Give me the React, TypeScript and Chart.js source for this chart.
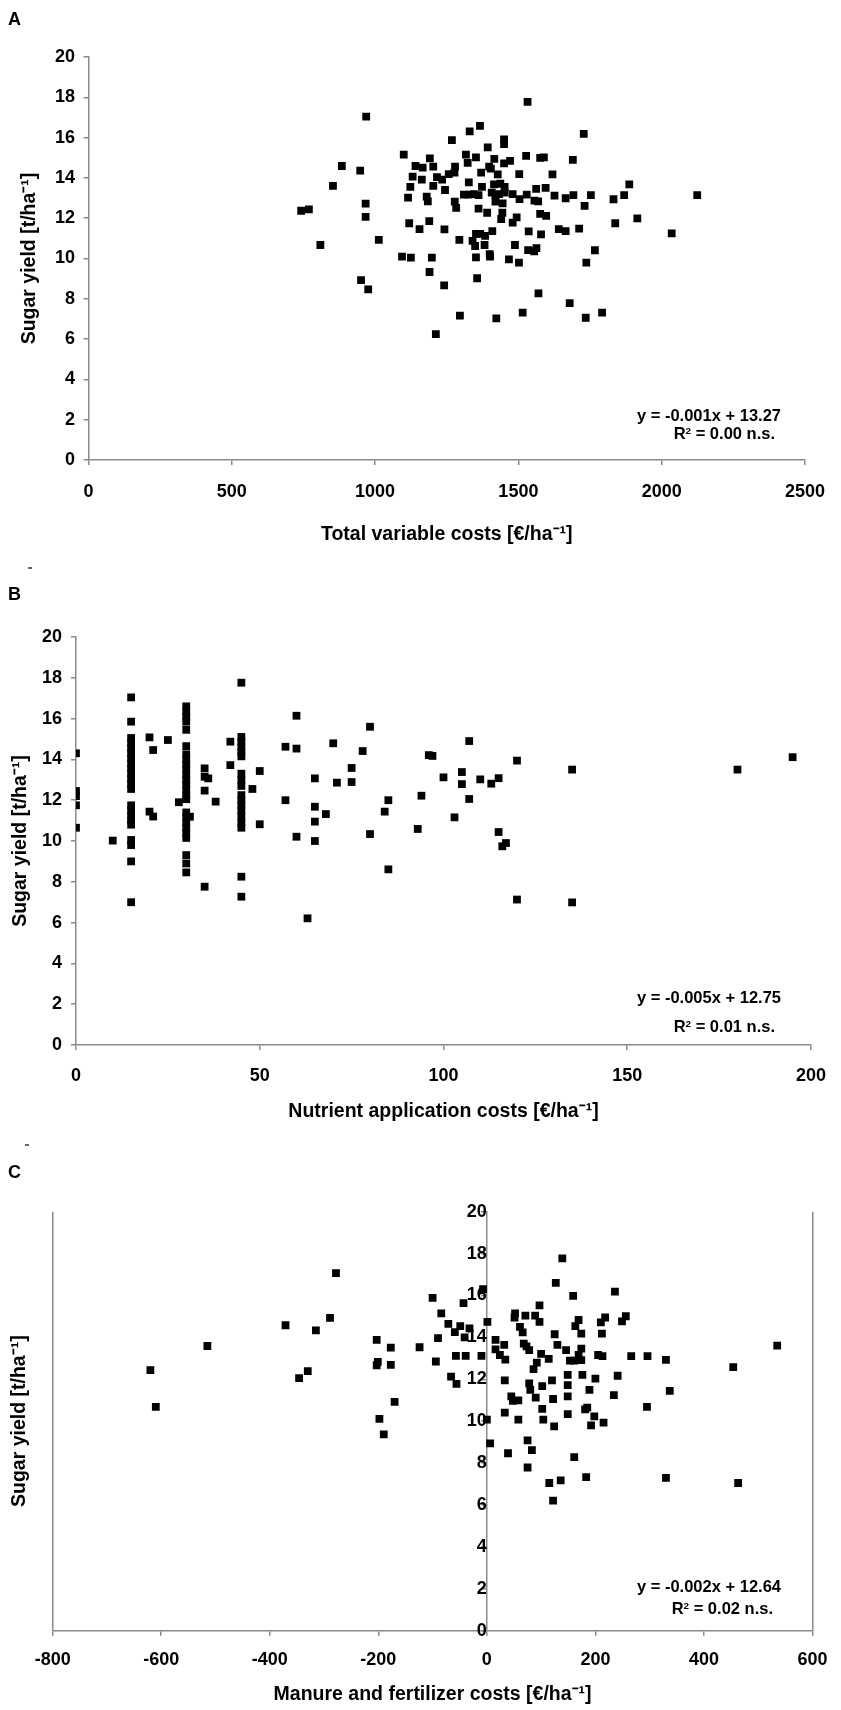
import React, { useEffect, useRef } from "react";
import { Chart, registerables } from "chart.js";

Chart.register(...registerables);

// ---------- Panel A: total variable costs [€/ha] vs sugar yield [t/ha]
const aCost = [
  969, 1532, 1366, 1330, 1268, 1450, 1450, 1728, 1393, 1100, 1317, 1352, 1416, 1527, 1576, 1589, 1690, 1191,
  1141, 1166, 1203, 1323, 1398, 1450, 1471, 884, 948, 1279, 1277, 1257, 1131, 1163, 1216, 1234, 1370, 1404,
  1428, 1503, 1619, 853, 1123, 1203, 1244, 1327, 1373, 1415, 1437, 1452, 1562, 1595, 1115, 1180, 1184, 1278,
  1283, 1310, 1327, 1345, 1361, 1407, 1420, 1433, 1452, 1480, 1420, 1445, 1504, 1529, 1556, 1569, 1626, 1665,
  1692, 1753, 1731, 742, 769, 967, 967, 1361, 1391, 1444, 1440, 1494, 1480, 1576, 1597, 1119, 1155, 1189, 1242,
  1409, 1536, 1579, 1641, 1665, 1712, 1767, 1737, 809, 1013, 1294, 1340, 1352, 1367, 1384, 1349, 1382, 1400,
  1401, 1352, 1488, 1467, 1502, 1534, 1555, 1563, 1094, 1125, 1198, 951, 976, 1190, 1241, 1356, 1570, 1679,
  1735, 1792, 1296, 1423, 1515, 1212, 1832, 1869, 1887, 1838, 1915, 2035, 2124,
];
const aYield = [
  17.04, 17.77, 16.58, 16.31, 15.88, 15.91, 15.68, 16.18, 15.52, 15.15, 15.15, 15.02, 14.94, 15.09, 14.99, 15.02,
  14.9, 14.97, 14.59, 14.51, 14.56, 14.75, 14.56, 14.72, 14.84, 14.59, 14.36, 14.56, 14.26, 14.19, 14.06, 13.91,
  14.04, 13.91, 14.26, 14.46, 14.18, 14.19, 14.18, 13.6, 13.56, 13.6, 13.4, 13.78, 13.56, 13.68, 13.71, 13.56,
  13.45, 13.5, 13.02, 13.07, 12.84, 12.82, 12.51, 13.17, 13.17, 13.19, 13.15, 13.27, 13.14, 13.2, 13.27, 13.2,
  12.82, 12.74, 12.95, 13.17, 12.87, 12.84, 13.12, 12.99, 13.15, 13.14, 12.61, 12.37, 12.44, 12.72, 12.07, 12.47,
  12.27, 12.27, 11.96, 12.04, 11.78, 12.21, 12.12, 11.75, 11.46, 11.86, 11.45, 11.36, 11.35, 11.2, 11.46, 11.36,
  11.48, 10.41, 9.79, 10.67, 10.92, 10.92, 10.88, 11.22, 11.22, 11.12, 10.62, 10.67, 10.22, 10.09, 10.06, 10.67,
  9.96, 9.79, 10.42, 10.36, 10.52, 10.09, 10.04, 10.04, 8.93, 8.47, 9.33, 8.67, 9.02, 8.27, 7.79, 7.06, 7.31,
  7.16, 7.03, 7.31, 6.25, 12.94, 13.14, 13.68, 11.75, 11.99, 11.25, 13.15,
];

// ---------- Panel B: nutrient application costs [€/ha] vs sugar yield
const bCost = [
  0, 0, 0, 0, 0, 10,
  15, 15, 15, 15, 15, 15, 15, 15, 15, 15, 15, 15, 15, 15, 15, 15, 15, 15, 15, 15, 15, 15,
  20, 20, 21, 21, 25, 28,
  30, 30, 30, 30, 30, 30, 30, 30, 30, 30, 30, 30, 30, 30, 30, 30, 30, 30, 30, 30, 30, 30, 30, 30, 30,
  31, 35, 35, 35, 35, 36, 38, 42, 42,
  45, 45, 45, 45, 45, 45, 45, 45, 45, 45, 45, 45, 45, 45, 45, 45, 45, 45,
  48, 50, 50, 57, 57, 60, 60, 60, 63, 65, 65, 65, 65, 68, 70, 71, 75, 75, 78, 80, 80, 84, 85, 85,
  93, 94, 96, 97, 100, 103, 105, 105, 107, 107, 110, 113, 115, 115, 116, 117, 120, 120, 135, 135, 180, 195,
];
const bYield = [
  14.3, 12.45, 12.2, 11.75, 10.65, 10.02,
  17.04, 15.85, 15.05, 14.8, 14.55, 14.3, 14.05, 13.8, 13.55, 13.3, 13.05, 12.8, 12.55, 11.75, 11.5, 11.25, 11.0,
  10.8, 10.05, 9.8, 9.0, 7.0,
  15.08, 11.44, 14.46, 11.2, 14.95, 11.9,
  16.6, 16.35, 16.1, 15.85, 15.45, 14.65, 14.25, 14.0, 13.75, 13.5, 13.25, 13.0, 12.75, 12.5, 12.25, 12.05, 11.4,
  11.15, 10.9, 10.65, 10.4, 10.15, 9.31, 8.9, 8.46,
  11.19, 13.56, 13.15, 12.47, 7.76, 13.07, 11.93, 14.87, 13.72,
  17.76, 15.1, 14.85, 14.6, 14.35, 14.15, 13.3, 13.0, 12.7, 12.25, 12.0, 11.75, 11.5, 11.2, 10.9, 10.65, 8.25, 7.27,
  12.55, 13.43, 10.82, 14.62, 12.0, 16.14, 14.53, 10.21, 6.21, 13.07, 11.68, 10.95, 10.0, 11.32, 14.79, 12.86,
  13.58, 12.89, 14.41, 15.6, 10.34, 11.44, 12.0, 8.61,
  10.59, 12.22, 14.21, 14.17, 13.12, 11.16, 13.38, 12.79, 14.9, 12.06, 13.02, 12.81, 13.08, 10.44, 9.74, 9.9,
  13.94, 7.13, 13.5, 6.99, 13.5, 14.11,
];

// ---------- Panel C: manure and fertilizer costs [€/ha] vs sugar yield
const cCost = [
  -620, -610, -515, -371, -346, -330, -315, -289, -278, -203, -203, -201, -198, -190, -177, -177, -170, -124,
  -100, -94, -90, -84, -71, -66, -59, -57, -56, -49, -43, -41, -39, -32, -10, -7, 0, 1, 6, 16, 16, 24, 32, 34,
  33, 33, 39, 45, 48, 52, 51, 58, 58, 61, 66, 68, 71, 73, 75, 75, 78, 78, 80, 83, 86, 89, 90, 92, 97, 97, 100,
  102, 102, 104, 114, 115, 120, 122, 122, 124, 127, 125, 130, 136, 139, 146, 149, 149, 149, 149, 153, 159, 161,
  161, 163, 169, 169, 174, 174, 174, 176, 181, 183, 185, 189, 192, 198, 200, 205, 210, 212, 213, 215, 218, 234,
  236, 241, 249, 256, 266, 295, 296, 330, 330, 337, 454, 463, 535,
];
const cYield = [
  12.44, 10.68, 13.59, 14.58, 12.06, 12.39, 14.34, 14.93, 17.07, 13.88, 12.67, 12.83, 10.11, 9.37, 13.51, 12.69,
  10.92, 13.53, 15.89, 12.85, 13.97, 15.15, 14.65, 12.13, 14.25, 13.12, 11.78, 14.54, 15.64, 14.0, 13.12, 14.43,
  13.12, 16.3, 10.07, 14.74, 8.94, 13.88, 13.43, 13.16, 13.64, 12.94, 11.95, 10.41, 8.47, 11.18, 10.97, 15.15,
  14.95, 10.99, 10.07, 14.5, 14.24, 13.7, 15.04, 13.57, 9.08, 7.79, 13.39, 11.81, 11.49, 8.62, 12.49, 15.04,
  11.13, 12.8, 14.74, 15.53, 13.21, 11.67, 10.59, 10.07, 12.98, 7.05, 11.95, 11.06, 6.21, 9.75, 16.6, 14.15,
  13.64, 7.18, 17.77, 13.39, 12.21, 11.72, 11.18, 10.34, 12.89, 15.98, 12.89, 8.28, 14.54, 14.83, 13.16, 14.18,
  13.46, 12.92, 12.21, 10.56, 7.33, 10.65, 11.49, 9.8, 10.23, 12.03, 13.16, 14.72, 14.18, 13.11, 9.93, 14.95,
  11.24, 16.19, 12.17, 14.77, 15.01, 13.11, 10.68, 13.11, 12.93, 7.29, 11.45, 12.58, 7.05, 13.61,
];

const yTitleText = "Sugar yield [t/ha\u207B\u00B9]";
const FONT = '"Liberation Sans", Arial, Helvetica, sans-serif';
const AXIS_GRAY = "#8a8a8a";

type Spec = {
  top: number;
  height: number;
  xs: number[];
  ys: number[];
  xMin: number;
  xMax: number;
  xStep: number;
  xTitle: string;
  padRight: number;
  padTop: number;
  yWidth: number;
  xHeight: number;
  xTickPad: number;
  yTickPad: number;
  xTitlePadBottom: number;
  yTitlePadTop: number;
  centerY?: boolean;
};

const specA: Spec = {
  top: 0, height: 560, xs: aCost, ys: aYield, xMin: 0, xMax: 2500, xStep: 500,
  xTitle: "Total variable costs [\u20AC/ha\u207B\u00B9]",
  padRight: 24.5, padTop: 57, yWidth: 88.5, xHeight: 100, xTickPad: 16, yTickPad: 8.5,
  xTitlePadBottom: 13.3, yTitlePadTop: 17.8,
};
const specB: Spec = {
  top: 560, height: 580, xs: bCost, ys: bYield, xMin: 0, xMax: 200, xStep: 50,
  xTitle: "Nutrient application costs [\u20AC/ha\u207B\u00B9]",
  padRight: 19, padTop: 77, yWidth: 76, xHeight: 95, xTickPad: 15, yTickPad: 9,
  xTitlePadBottom: 16.3, yTitlePadTop: 9.3,
};
const specC: Spec = {
  top: 1140, height: 570, xs: cCost, ys: cYield, xMin: -800, xMax: 600, xStep: 200,
  xTitle: "Manure and fertilizer costs [\u20AC/ha\u207B\u00B9]",
  padRight: 21, padTop: 71.7, yWidth: 52.7, xHeight: 79.3, xTickPad: 13.5, yTickPad: 8,
  xTitlePadBottom: 3.3, yTitlePadTop: 8.3, centerY: true,
};

const plainTick = (v: any) => String(v);

function Panel({ spec }: { spec: Spec }) {
  const ref = useRef<HTMLCanvasElement>(null);
  useEffect(() => {
    if (!ref.current) return;
    const tickFont = { family: FONT, size: 18, weight: "bold" as const };
    const titleFont = { family: FONT, size: 19.5, weight: "bold" as const };
    const points = spec.xs.map((x, i) => ({ x, y: spec.ys[i] }));
    const scales: any = {
      x: {
        type: "linear",
        position: "bottom",
        min: spec.xMin,
        max: spec.xMax,
        ticks: {
          stepSize: spec.xStep,
          color: "#000",
          font: tickFont,
          padding: spec.xTickPad,
          maxRotation: 0,
          autoSkip: false,
          callback: plainTick,
        },
        grid: spec.centerY
          ? {
              drawOnChartArea: true,
              color: (c: any) =>
                c.tick && (c.tick.value === spec.xMin || c.tick.value === spec.xMax) ? AXIS_GRAY : "rgba(0,0,0,0)",
              lineWidth: 1.5,
              tickColor: AXIS_GRAY,
              tickLength: 5,
              tickWidth: 1.5,
            }
          : { drawOnChartArea: false, color: AXIS_GRAY, tickColor: AXIS_GRAY, tickLength: 5, lineWidth: 1.5 },
        border: { display: true, color: AXIS_GRAY, width: 1.5 },
        title: {
          display: true,
          text: spec.xTitle,
          color: "#000",
          font: titleFont,
          padding: { top: 0, bottom: spec.xTitlePadBottom },
        },
        afterFit: (s: any) => {
          s.height = spec.xHeight;
        },
      },
    };
    const yTicks = { stepSize: 2, color: "#000", font: tickFont, padding: spec.yTickPad, callback: plainTick };
    const yTitle = {
      display: true,
      text: yTitleText,
      color: "#000",
      font: titleFont,
      padding: { top: spec.yTitlePadTop, bottom: 0 },
    };
    if (!spec.centerY) {
      scales.y = {
        type: "linear",
        position: "left",
        min: 0,
        max: 20,
        ticks: yTicks,
        grid: { drawOnChartArea: false, color: AXIS_GRAY, tickColor: AXIS_GRAY, tickLength: 5, lineWidth: 1.5 },
        border: { display: true, color: AXIS_GRAY, width: 1.5 },
        title: yTitle,
        afterFit: (s: any) => {
          s.width = spec.yWidth;
        },
      };
    } else {
      scales.yTitle = {
        type: "linear",
        axis: "y",
        position: "left",
        min: 0,
        max: 20,
        ticks: { display: false },
        grid: { display: false },
        border: { display: false },
        title: yTitle,
        afterFit: (s: any) => {
          s.width = spec.yWidth;
        },
      };
      scales.y = {
        type: "linear",
        axis: "y",
        position: { x: 0 },
        min: 0,
        max: 20,
        ticks: yTicks,
        grid: { drawOnChartArea: false, color: AXIS_GRAY, tickColor: AXIS_GRAY, tickLength: 5, lineWidth: 1.5 },
        border: { display: true, color: AXIS_GRAY, width: 1.5 },
      };
    }
    const chart = new Chart(ref.current, {
      type: "scatter",
      data: {
        datasets: [
          {
            label: "Sugar yield",
            data: points,
            xAxisID: "x",
            yAxisID: "y",
            pointStyle: "rect",
            pointRadius: 5.5,
            pointBorderWidth: 0,
            borderWidth: 0,
            backgroundColor: "#000",
            borderColor: "#000",
            showLine: false,
          },
        ],
      },
      options: {
        responsive: false,
        animation: false,
        events: [],
        layout: { padding: { left: 0, right: spec.padRight, top: spec.padTop, bottom: 0 } },
        plugins: { legend: { display: false }, tooltip: { enabled: false }, title: { display: false } },
        scales,
      },
    });
    return () => chart.destroy();
  }, [spec]);
  return (
    <canvas
      ref={ref}
      width={841}
      height={spec.height}
      style={{ position: "absolute", left: 0, top: spec.top, width: 841, height: spec.height, display: "block" }}
    />
  );
}

const letterStyle = (top: number): React.CSSProperties => ({
  position: "absolute",
  left: 8,
  top,
  fontFamily: FONT,
  fontWeight: "bold",
  fontSize: 18,
  lineHeight: "18px",
  color: "#000",
});

const dashStyle = (left: number, top: number): React.CSSProperties => ({
  position: "absolute",
  left,
  top,
  width: 4,
  height: 1.5,
  background: "#666",
});

const eqStyle = (top: number, right: number): React.CSSProperties => ({
  position: "absolute",
  right: 841 - right,
  top,
  fontFamily: FONT,
  fontWeight: "bold",
  fontSize: 16.5,
  lineHeight: "16.5px",
  color: "#000",
  whiteSpace: "nowrap",
});

const supStyle: React.CSSProperties = { fontSize: "0.6em", lineHeight: 0, verticalAlign: "0.55em" };

function Equation({ eq, r2, top1, top2, right1, right2 }: { eq: string; r2: string; top1: number; top2: number; right1: number; right2: number }) {
  return (
    <>
      <div style={eqStyle(top1, right1)}>{eq}</div>
      <div style={eqStyle(top2, right2)}>
        R<span style={supStyle}>2</span>
        {" = " + r2}
      </div>
    </>
  );
}

export default function App() {
  return (
    <div style={{ position: "absolute", left: 0, top: 0, width: 841, height: 1710, background: "#fff", overflow: "hidden" }}>
      <Panel spec={specA} />
      <Panel spec={specB} />
      <Panel spec={specC} />
      <div style={letterStyle(9.6)}>A</div>
      <div style={letterStyle(584.6)}>B</div>
      <div style={letterStyle(1162.6)}>C</div>
      <div style={dashStyle(28, 567)} />
      <div style={dashStyle(25, 1144)} />
      <Equation eq="y = -0.001x + 13.27" r2="0.00 n.s." top1={406.7} top2={425.3} right1={781} right2={775} />
      <Equation eq="y = -0.005x + 12.75" r2="0.01 n.s." top1={989} top2={1017.8} right1={781} right2={775} />
      <Equation eq="y = -0.002x + 12.64" r2="0.02 n.s." top1={1577.7} top2={1600} right1={781} right2={773} />
    </div>
  );
}
